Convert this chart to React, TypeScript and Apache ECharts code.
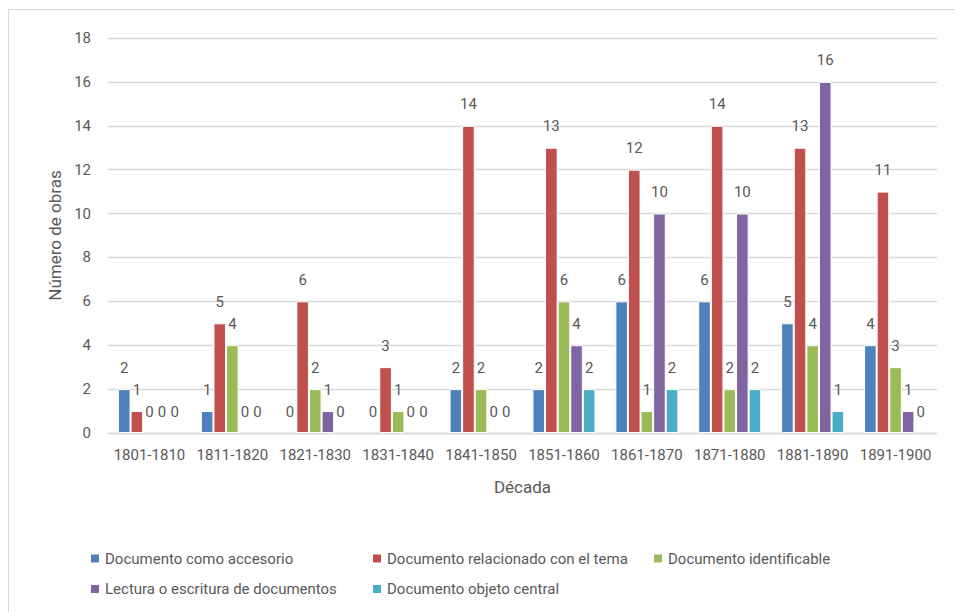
import React, { useEffect, useRef } from "react";
import * as echarts from "echarts";

// Décadas del siglo XIX
const decades = [
  "1801-1810", "1811-1820", "1821-1830", "1831-1840", "1841-1850",
  "1851-1860", "1861-1870", "1871-1880", "1881-1890", "1891-1900",
];

// Número de obras por categoría de uso del documento
const accesorio = [2, 1, 0, 0, 2, 2, 6, 6, 5, 4];
const relacionado = [1, 5, 6, 3, 14, 13, 12, 14, 13, 11];
const identificable = [0, 4, 2, 1, 2, 6, 1, 2, 4, 3];
const lectura = [0, 0, 1, 0, 0, 4, 10, 10, 16, 1];
const objetoCentral = [0, 0, 0, 0, 0, 2, 2, 2, 1, 0];

const seriesNames = [
  "Documento como accesorio",
  "Documento relacionado con el tema",
  "Documento identificable",
  "Lectura o escritura de documentos",
  "Documento objeto central",
];
const seriesData = [accesorio, relacionado, identificable, lectura, objetoCentral];
const colors = ["#4F81BD", "#C0504D", "#9BBB59", "#8064A2", "#4BACC6"];

const FONT = 'Roboto, "Liberation Sans", sans-serif';
const TEXT = "#595959";
const GRID = "#d9d9d9";

// legend slots: [left, top] for each series
const legendSlots: [number, number][] = [
  [89, 548.5],
  [371, 548.5],
  [652, 548.5],
  [89, 579],
  [371, 579],
];

export default function App() {
  const ref = useRef<HTMLDivElement>(null);

  useEffect(() => {
    if (!ref.current) return;
    const chart = echarts.init(ref.current, null, { renderer: "svg" });

    chart.setOption({
      animation: false,
      backgroundColor: "#ffffff",
      textStyle: { fontFamily: FONT },
      graphic: [
        {
          type: "rect",
          shape: { x: 8.5, y: 9.5, width: 1000, height: 1000 },
          style: { fill: "none", stroke: GRID, lineWidth: 1 },
          silent: true,
        },
      ],
      grid: { left: 108, right: 18, top: 38, bottom: 179, containLabel: false },
      legend: seriesNames.map((name, i) => ({
        data: [name],
        left: legendSlots[i][0],
        top: legendSlots[i][1],
        padding: 0,
        itemWidth: 10,
        itemHeight: 10,
        icon: "rect",
        selectedMode: false,
        textStyle: { fontFamily: FONT, fontSize: 15, color: TEXT, lineHeight: 20 },
      })),
      xAxis: {
        type: "category",
        data: decades,
        name: "Década",
        nameLocation: "middle",
        nameGap: 45,
        nameTextStyle: { fontFamily: FONT, fontSize: 17, color: TEXT },
        axisLine: { show: true, lineStyle: { color: GRID, width: 1.3 } },
        axisTick: { show: false },
        axisLabel: { interval: 0, fontFamily: FONT, fontSize: 15, color: TEXT, margin: 14 },
      },
      yAxis: {
        type: "value",
        min: 0,
        max: 18,
        interval: 2,
        name: "Número de obras",
        nameLocation: "middle",
        nameGap: 45,
        nameTextStyle: { fontFamily: FONT, fontSize: 17, color: TEXT },
        axisLine: { show: false },
        axisTick: { show: false },
        axisLabel: { fontFamily: FONT, fontSize: 15, color: TEXT, margin: 17 },
        splitLine: { lineStyle: { color: GRID, width: 1.3 } },
      },
      series: seriesNames.map((name, i) => ({
        name,
        type: "bar",
        // zero-height bars get no white outline so the baseline stays unbroken
        data: seriesData[i].map((v) =>
          v === 0 ? { value: v, itemStyle: { borderWidth: 0 } } : v
        ),
        barGap: "0%",
        barCategoryGap: "24%",
        itemStyle: { color: colors[i], borderColor: "#ffffff", borderWidth: 1 },
        label: {
          show: true,
          position: "top",
          distance: 14,
          fontFamily: FONT,
          fontSize: 15,
          color: TEXT,
        },
      })),
    });

    return () => chart.dispose();
  }, []);

  return (
    <div
      ref={ref}
      style={{ position: "absolute", left: 0, top: 0, width: 955, height: 612 }}
    />
  );
}
